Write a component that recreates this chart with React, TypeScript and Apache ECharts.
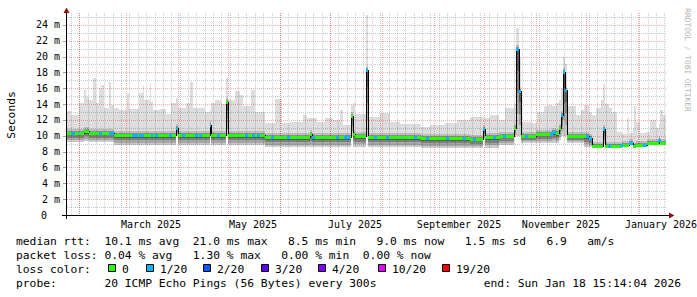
import React, { useEffect, useRef } from 'react';
import * as echarts from 'echarts';

// ---------- time range ----------
const rangeStart = '2025-01-24T15:14';
const rangeEnd = '2026-01-18T15:14';

// ---------- interval breakpoints (n+1) ----------
const times = [
  '2025-01-24T15:14', '2025-01-27', '2025-02-01', '2025-02-04', '2025-02-05', '2025-02-07', '2025-02-09', '2025-02-11', '2025-02-13', '2025-02-14',
  '2025-02-16', '2025-02-19', '2025-02-20', '2025-02-22', '2025-02-25', '2025-03-01T12:00', '2025-03-03', '2025-03-09', '2025-03-11', '2025-03-12',
  '2025-03-15', '2025-03-16', '2025-03-17', '2025-03-21', '2025-03-25', '2025-03-28', '2025-03-31', '2025-04-01T06:00', '2025-04-06', '2025-04-08',
  '2025-04-10', '2025-04-17', '2025-04-20', '2025-04-21', '2025-04-23', '2025-04-27', '2025-04-30', '2025-05-01', '2025-05-05', '2025-05-08',
  '2025-05-10', '2025-05-15', '2025-05-17', '2025-05-23', '2025-05-29', '2025-06-02', '2025-06-07', '2025-06-15', '2025-06-17', '2025-06-19',
  '2025-06-20', '2025-06-23', '2025-06-28', '2025-07-03', '2025-07-07', '2025-07-09', '2025-07-13T18:00', '2025-07-14T18:00', '2025-07-16', '2025-07-22T18:00',
  '2025-07-24', '2025-07-31', '2025-08-06', '2025-08-12', '2025-08-24T12:00', '2025-08-30', '2025-09-08', '2025-09-15', '2025-09-23', '2025-09-30T18:00',
  '2025-10-02', '2025-10-05', '2025-10-10', '2025-10-14', '2025-10-19', '2025-10-20T06:00', '2025-10-22T06:00', '2025-10-23T12:00', '2025-10-29', '2025-11-01',
  '2025-11-02', '2025-11-06', '2025-11-08T12:00', '2025-11-11', '2025-11-13', '2025-11-14T18:00', '2025-11-16T06:00', '2025-11-17T06:00', '2025-11-18T18:00', '2025-11-20',
  '2025-11-25', '2025-11-28', '2025-11-30', '2025-12-03', '2025-12-05', '2025-12-07', '2025-12-10', '2025-12-11T12:00', '2025-12-12T12:00', '2025-12-15',
  '2025-12-17', '2025-12-20', '2025-12-23', '2025-12-26', '2025-12-27', '2025-12-29', '2025-12-30', '2025-12-31', '2026-01-02T12:00', '2026-01-05T12:00',
  '2026-01-06T18:00', '2026-01-08T12:00', '2026-01-12', '2026-01-13T18:00', '2026-01-14T12:00', '2026-01-16T12:00', '2026-01-18',
];

// ---------- median rtt (ms) per interval ----------
const median = [
  10.4, 10.4, 10.4, 10.6, 10.6, 10.4, 10.4, 10.3, 10.4, 10.4,
  10.4, 10.4, 10.4, 10.1, 10.1, 10.1, 10.1, 10.1, 10.1, 10.1,
  10.1, 10.1, 10.1, 10.1, 10.1, 10.1, 11.0, 10.1, 10.1, 10.1,
  10.1, 10.1, 11.4, 10.1, 10.1, 10.1, 14.3, 10.1, 10.1, 10.1,
  10.1, 10.1, 10.1, 9.9, 9.9, 9.9, 9.9, 9.9, 9.9, 10.2,
  9.9, 9.9, 9.9, 9.9, 9.9, 9.9, 12.5, 10.2, 10.0, 18.3,
  9.9, 9.9, 9.9, 9.9, 9.7, 9.7, 9.7, 9.7, 9.6, 10.8,
  9.8, 9.8, 10.0, 10.0, 10.95, 21.0, 15.6, 10.0, 10.0, 10.2,
  10.2, 10.2, 10.2, 10.5, 10.3, 10.95, 12.6, 18.1, 15.8, 10.0,
  10.0, 10.0, 10.0, 9.7, 8.75, 8.75, 8.75, 10.9, 8.75, 8.75,
  8.75, 8.7, 8.85, 8.85, 9.05, 8.75, 8.75, 8.85, 8.85, 8.85,
  9.05, 9.05, 9.05, 9.45, 9.05, 9.05,
];

// ---------- smoke top (max ping, ms) ----------
const smokeHi = [
  13.1, 12.6, 14.1, 15.8, 14.9, 14.5, 17.3, 14.1, 16.0, 16.4,
  13.5, 16.8, 13.9, 13.5, 13.3, 15.4, 13.4, 15.4, 16.4, 14.5,
  16.7, 14.3, 13.2, 13.4, 12.8, 14.1, 14.8, 13.5, 14.1, 16.8,
  13.5, 13.0, 13.3, 14.2, 14.5, 14.0, 17.3, 14.5, 15.6, 15.2,
  13.8, 15.8, 13.05, 11.6, 14.7, 11.6, 11.7, 12.6, 12.2, 12.2,
  12.2, 11.8, 12.3, 12.0, 13.3, 11.4, 13.9, 14.1, 12.8, 25.3,
  12.4, 12.9, 11.8, 11.5, 11.15, 11.4, 11.6, 12.0, 12.4, 12.2,
  12.2, 12.6, 12.0, 13.5, 14.0, 23.6, 20.0, 11.8, 11.6, 11.7,
  13.0, 13.7, 13.9, 13.7, 14.1, 14.5, 16.0, 20.0, 19.0, 13.7,
  12.6, 13.3, 13.9, 13.0, 12.6, 13.5, 14.5, 16.6, 14.0, 13.5,
  13.0, 10.5, 10.2, 12.2, 10.3, 11.0, 13.7, 11.8, 10.3, 10.5,
  10.5, 12.0, 10.95, 11.5, 13.3, 12.6,
];

// ---------- smoke bottom (min ping, ms) ----------
const smokeLo = [
  9.2, 9.2, 9.2, 9.3, 9.3, 9.2, 9.2, 9.2, 9.2, 9.2,
  9.2, 9.2, 9.2, 8.8, 8.8, 8.8, 8.8, 8.8, 8.8, 8.8,
  8.8, 8.8, 8.8, 8.8, 8.8, 8.8, 10.0, 8.8, 8.8, 8.8,
  8.8, 8.8, 10.0, 8.8, 8.8, 8.8, 10.0, 8.8, 8.8, 8.8,
  8.8, 8.8, 8.8, 8.6, 8.6, 8.6, 8.6, 8.6, 8.6, 8.6,
  8.6, 8.6, 8.6, 8.6, 8.6, 8.6, 10.0, 8.6, 8.6, 10.0,
  8.6, 8.6, 8.6, 8.6, 8.4, 8.4, 8.4, 8.4, 8.4, 9.6,
  8.5, 8.5, 8.8, 8.85, 9.8, 10.0, 10.0, 9.05, 9.05, 9.05,
  9.05, 9.05, 9.05, 9.05, 9.05, 9.5, 10.0, 10.0, 10.0, 9.05,
  9.05, 9.05, 8.6, 8.6, 8.65, 8.65, 8.65, 8.9, 8.65, 8.65,
  8.65, 8.6, 8.7, 8.7, 8.9, 8.65, 8.65, 8.7, 8.7, 8.7,
  8.9, 8.9, 8.9, 9.0, 8.9, 8.9,
];

// ---------- loss class per interval (index into lossColors) ----------
const lossClass = [
  0, 1, 0, 0, 0, 0, 1, 0, 1, 1,
  0, 1, 1, 0, 0, 0, 0, 1, 1, 0,
  0, 1, 0, 0, 0, 0, 1, 0, 0, 0,
  0, 0, 1, 0, 0, 0, 0, 0, 0, 0,
  0, 0, 0, 0, 0, 0, 0, 0, 0, 0,
  0, 0, 0, 0, 0, 0, 0, 0, 0, 1,
  0, 0, 0, 0, 0, 0, 0, 0, 0, 1,
  0, 0, 0, 0, 0, 1, 1, 0, 0, 0,
  0, 0, 0, 1, 0, 0, 1, 1, 1, 0,
  0, 0, 0, 1, 0, 0, 0, 1, 0, 0,
  0, 0, 0, 0, 1, 0, 0, 0, 0, 1,
  0, 0, 0, 1, 0, 0,
];

// ---------- short loss marks on the median line ----------
const markDates = [
  '2025-01-30', '2025-02-10', '2025-02-15', '2025-03-05', '2025-03-07', '2025-03-19', '2025-03-27', '2025-04-04', '2025-04-12', '2025-04-14',
  '2025-04-25', '2025-05-12', '2025-05-16', '2025-05-19', '2025-05-27', '2025-06-06', '2025-06-21', '2025-07-05', '2025-07-10', '2025-07-12',
  '2025-07-28', '2025-08-04', '2025-08-21', '2025-08-28', '2025-09-09', '2025-09-19', '2025-09-25', '2025-10-07', '2025-10-13', '2025-10-26',
  '2025-11-10', '2025-12-02', '2025-12-15', '2025-12-22', '2025-12-28', '2026-01-05', '2026-01-14',
];
const markValues = [
  10.4, 10.4, 10.4, 10.1, 10.1, 10.1, 10.1, 10.1, 10.1, 10.1,
  10.1, 10.1, 10.1, 10.1, 9.9, 9.9, 9.9, 9.9, 9.9, 9.9,
  9.9, 9.9, 9.9, 9.7, 9.7, 9.7, 9.6, 9.8, 10.0, 10.0,
  10.2, 10.0, 8.75, 8.85, 9.05, 8.85, 9.45,
];
const markClass = [
  0, 0, 0, 1, 1, 1, 1, 1, 1, 1,
  1, 1, 1, 1, 1, 1, 1, 1, 1, 1,
  1, 1, 1, 1, 1, 1, 1, 1, 1, 1,
  1, 1, 1, 1, 1, 1, 1,
];

// ---------- axis text ----------
const monthStarts = [
  '2025-02-01', '2025-03-01', '2025-04-01', '2025-05-01', '2025-06-01', '2025-07-01',
  '2025-08-01', '2025-09-01', '2025-10-01', '2025-11-01', '2025-12-01', '2026-01-01',
];
const monthLabelDates = ['2025-03-16', '2025-05-16', '2025-07-16', '2025-09-16', '2025-11-16', '2026-01-15'];
const monthLabels = ['March 2025', 'May 2025', 'July 2025', 'September 2025', 'November 2025', 'January 2026'];

// ---------- legend ----------
const lossColors = ['#26ff00', '#00b8ff', '#0059ff', '#5e00ff', '#7e00ff', '#dd00ff', '#ff0000'];
const lossColorLabels = ['0', '1/20', '2/20', '3/20', '4/20', '10/20', '19/20'];
const rttItems = ['median rtt:', '10.1 ms avg', '21.0 ms max', '8.5 ms min', '9.0 ms now', '1.5 ms sd', '6.9', 'am/s'];
const pktItems = ['packet loss:', '0.04 % avg', '1.30 % max', '0.00 % min', '0.00 % now'];
const probeItems = ['probe:', '20 ICMP Echo Pings (56 Bytes) every 300s'];
const endItem = 'end: Sun Jan 18 15:14:04 2026';

// layout: character columns of legend tokens (monospace) and box positions
const rttCols = [0, 13, 26, 40, 53, 66, 78, 84];
const pktCols = [0, 13, 26, 39, 51];
const probeCols = [0, 13];
const boxX = [108, 146, 203, 261, 318, 378, 442];
const LEG_X0 = 16;
const CH = 6.8;

const MONO = 'DejaVu Sans Mono';
const MAJOR = 'rgba(255,0,0,0.33)';
const MINOR = 'rgba(0,0,0,0.2)';

const ts = (s: string): number => Date.parse(s.length === 10 ? `${s}T00:00:00Z` : `${s}:00Z`);

const txt = (x: number, y: number, text: string, extra: any = {}) => ({
  type: 'text',
  x,
  y,
  rotation: extra.rotation || 0,
  silent: true,
  style: {
    text,
    fill: extra.fill || '#000',
    fontFamily: MONO,
    fontSize: extra.fontSize || 11.3,
    align: extra.align || 'left',
    textAlign: extra.align || 'left',
    verticalAlign: 'middle',
    textVerticalAlign: 'middle',
  },
});

export default function App() {
  const ref = useRef<HTMLDivElement>(null);

  useEffect(() => {
    if (!ref.current) return;
    const chart = echarts.init(ref.current, undefined, { renderer: 'svg' });
    const xMin = ts(rangeStart);
    const xMax = ts(rangeEnd);
    const DAY = 86400000;

    const smokeData = median.map((m, i) => [ts(times[i]), ts(times[i + 1]), smokeLo[i], m, smokeHi[i]]);
    const medianData = median.map((m, i) => [ts(times[i]), ts(times[i + 1]), m, i > 0 ? median[i - 1] : m, lossClass[i]]);
    const markData = markDates.map((d, i) => [ts(d), markValues[i], markClass[i]]);

    const hGrid: number[][] = [];
    for (let v = 1; v <= 25; v++) hGrid.push([xMin, v, v % 2 === 0 ? 1 : 0]);
    const vGrid: number[][] = [];
    for (let d = Math.ceil(xMin / (5 * DAY)) * 5 * DAY; d <= xMax; d += 5 * DAY) vGrid.push([d, 0, 0]);
    monthStarts.forEach((m) => vGrid.push([ts(m), 0, 1]));

    const smokeItem = (params: any, api: any) => {
      const x0 = Math.round(api.coord([api.value(0), 0])[0]);
      const x1 = Math.round(api.coord([api.value(1), 0])[0]);
      const w = Math.max(1, x1 - x0);
      const py = (v: number) => Math.round(api.coord([api.value(0), v])[1]);
      const yLo = py(api.value(2));
      const ym = py(api.value(3));
      const yHi = py(api.value(4));
      const children: any[] = [];
      const r = (ya: number, yb: number, fill: string) => {
        if (yb > ya) children.push({ type: 'rect', shape: { x: x0, y: ya, width: w, height: yb - ya }, style: { fill } });
      };
      r(yHi, ym, '#dddddd');
      r(Math.max(yHi, ym - 4), ym, '#bdbdbd');
      r(Math.max(yHi, ym - 2), ym, '#8e8e8e');
      const span = yLo - ym;
      const cols = ['#5a5a5a', '#808080', '#a6a6a6', '#cacaca'];
      for (let i = 0; i < 4; i++) r(Math.round(ym + (span * i) / 4), Math.round(ym + (span * (i + 1)) / 4), cols[i]);
      return { type: 'group', children };
    };

    const medianItem = (params: any, api: any) => {
      const x0 = Math.round(api.coord([api.value(0), 0])[0]);
      const x1 = Math.round(api.coord([api.value(1), 0])[0]);
      const ym = Math.round(api.coord([api.value(0), api.value(2)])[1]);
      const yp = Math.round(api.coord([api.value(0), api.value(3)])[1]);
      const children: any[] = [];
      if (yp !== ym) {
        children.push({ type: 'rect', shape: { x: x0, y: Math.min(yp, ym), width: 1, height: Math.abs(yp - ym) + 1 }, style: { fill: '#000' } });
      }
      children.push({ type: 'rect', shape: { x: x0, y: ym - 1, width: Math.max(1, x1 - x0), height: 3 }, style: { fill: lossColors[api.value(4)] } });
      return { type: 'group', children };
    };

    const markItem = (params: any, api: any) => {
      const p = api.coord([api.value(0), api.value(1)]);
      const x = Math.round(p[0]);
      const y = Math.round(p[1]);
      return { type: 'rect', shape: { x: x - 1, y: y - 1, width: 3, height: 3 }, style: { fill: lossColors[api.value(2)] } };
    };

    const hGridItem = (params: any, api: any) => {
      const cs = params.coordSys;
      const y = Math.round(api.coord([api.value(0), api.value(1)])[1]) + 0.5;
      const major = api.value(2) === 1;
      const children: any[] = [
        { type: 'line', shape: { x1: cs.x, y1: y, x2: cs.x + cs.width, y2: y }, style: { stroke: major ? MAJOR : MINOR, lineWidth: 1, lineDash: [1, 1] } },
      ];
      if (major) children.push({ type: 'line', shape: { x1: cs.x - 4, y1: y, x2: cs.x - 1, y2: y }, style: { stroke: '#a0a0a0', lineWidth: 1 } });
      return { type: 'group', children };
    };

    const vGridItem = (params: any, api: any) => {
      const cs = params.coordSys;
      const x = Math.round(api.coord([api.value(0), 0])[0]) + 0.5;
      const major = api.value(2) === 1;
      return { type: 'line', shape: { x1: x, y1: cs.y, x2: x, y2: cs.y + cs.height }, style: { stroke: major ? MAJOR : MINOR, lineWidth: 1, lineDash: [1, 1] } };
    };

    const monthItem = (params: any, api: any) => {
      const cs = params.coordSys;
      const x = Math.round(api.coord([api.value(0), 0])[0]);
      return {
        type: 'text',
        x,
        y: cs.y + cs.height + 9.5,
        style: {
          text: monthLabels[params.dataIndex], fill: '#000', fontFamily: MONO, fontSize: 10,
          align: 'center', textAlign: 'center', verticalAlign: 'middle', textVerticalAlign: 'middle',
        },
      };
    };

    const graphic: any[] = [
      // axes
      { type: 'line', silent: true, shape: { x1: 62, y1: 215.5, x2: 669, y2: 215.5 }, style: { stroke: '#000', lineWidth: 1 } },
      { type: 'line', silent: true, shape: { x1: 66.5, y1: 219, x2: 66.5, y2: 12 }, style: { stroke: '#000', lineWidth: 1 } },
      { type: 'polygon', silent: true, shape: { points: [[66.5, 7.5], [63.5, 13], [69.5, 13]] }, style: { fill: '#8b1414' } },
      { type: 'polygon', silent: true, shape: { points: [[674.5, 215.5], [669, 212.5], [669, 218.5]] }, style: { fill: '#8b1414' } },
      txt(11, 115, 'Seconds', { rotation: Math.PI / 2, align: 'center' }),
      txt(687.5, 60, 'RRDTOOL / TOBI OETIKER', { rotation: -Math.PI / 2, align: 'center', fontSize: 7.8, fill: '#b4b4b4' }),
    ];
    rttItems.forEach((t, i) => graphic.push(txt(LEG_X0 + rttCols[i] * CH, 241, t)));
    pktItems.forEach((t, i) => graphic.push(txt(LEG_X0 + pktCols[i] * CH, 255, t)));
    graphic.push(txt(LEG_X0, 269, 'loss color:'));
    lossColorLabels.forEach((t, i) => {
      graphic.push({ type: 'rect', silent: true, shape: { x: boxX[i] + 0.5, y: 264.5, width: 7, height: 7 }, style: { fill: lossColors[i], stroke: '#000', lineWidth: 1 } });
      graphic.push(txt(boxX[i] + 14, 269, t));
    });
    probeItems.forEach((t, i) => graphic.push(txt(LEG_X0 + probeCols[i] * CH, 283, t)));
    graphic.push(txt(681, 283, endItem, { align: 'right' }));

    const option: any = {
      animation: false,
      backgroundColor: '#ffffff',
      grid: { left: 67, top: 13, width: 600, height: 202, containLabel: false },
      xAxis: {
        type: 'time', min: xMin, max: xMax,
        axisLine: { show: false }, axisTick: { show: false }, axisLabel: { show: false }, splitLine: { show: false },
      },
      yAxis: {
        type: 'value', min: 0, max: 25.5, interval: 2,
        axisLine: { show: false }, axisTick: { show: false }, splitLine: { show: false },
        axisLabel: {
          margin: 7, color: '#000', fontFamily: MONO, fontSize: 10,
          formatter: (v: number) => (v === 0 ? '{z|0}' : v % 2 === 0 ? `${v} m` : ''),
          rich: { z: { padding: [0, 13, 0, 0], fontFamily: MONO, fontSize: 10, color: '#000' } },
        },
      },
      graphic,
      series: [
        { type: 'custom', name: 'smoke', z: 1, silent: true, clip: false, renderItem: smokeItem, encode: { x: [0, 1], y: [2, 3, 4] }, data: smokeData },
        { type: 'custom', name: 'hgrid', z: 2, silent: true, clip: false, renderItem: hGridItem, encode: { x: 0, y: 1 }, data: hGrid },
        { type: 'custom', name: 'vgrid', z: 2, silent: true, clip: false, renderItem: vGridItem, encode: { x: 0, y: 1 }, data: vGrid },
        { type: 'custom', name: 'median', z: 3, silent: true, clip: false, renderItem: medianItem, encode: { x: [0, 1], y: [2, 3] }, data: medianData },
        { type: 'custom', name: 'loss', z: 4, silent: true, clip: false, renderItem: markItem, encode: { x: 0, y: 1 }, data: markData },
        { type: 'custom', name: 'months', z: 5, silent: true, clip: false, renderItem: monthItem, encode: { x: 0, y: 1 }, data: monthLabelDates.map((d) => [ts(d), 0]) },
      ],
    };
    chart.setOption(option);
    return () => chart.dispose();
  }, []);

  return <div ref={ref} style={{ position: 'fixed', left: 0, top: 0, width: 697, height: 297, background: '#fff' }} />;
}
